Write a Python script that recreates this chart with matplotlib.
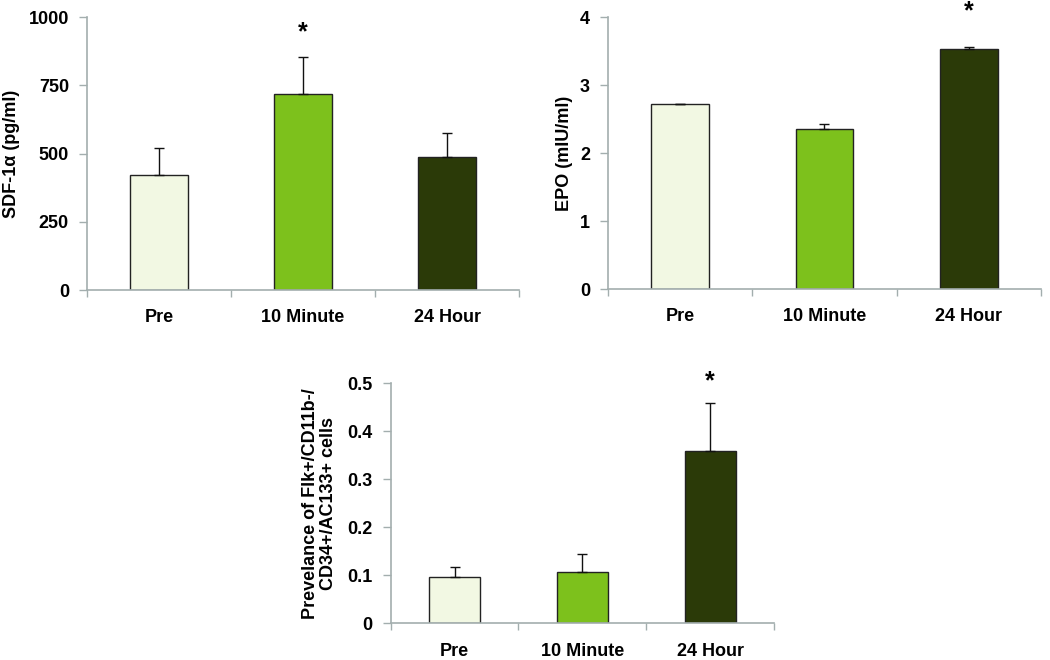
import numpy as np
import matplotlib
matplotlib.use('Agg')
import matplotlib.pyplot as plt

plt.rcParams['font.family'] = ['Liberation Sans', 'DejaVu Sans']
plt.rcParams['font.weight'] = 'bold'

groups = ['Pre', '10 Minute', '24 Hour']
bar_colors = ['#F2F8E3', '#7DC11C', '#2B3A08']

sdf_mean = [420, 717, 488]
sdf_err = [99, 135, 86]
epo_mean = [2.72, 2.36, 3.53]
epo_err = [0.005, 0.06, 0.03]
epc_mean = [0.097, 0.106, 0.359]
epc_err = [0.020, 0.038, 0.101]

axis_gray = '#A3AEAE'


def bar_panel(ax, means, errs, ylim, yticks, ylabel, star_idx, star_y, label_x):
    x = np.arange(len(groups))
    ax.bar(x, means, width=0.4, color=bar_colors, edgecolor='#222222', linewidth=1.0, zorder=2)
    ax.errorbar(x, means, yerr=[np.zeros(len(errs)), errs], fmt='none', ecolor='#111111',
                elinewidth=1.0, capsize=3.5, capthick=1.0, zorder=3)
    ax.set_xlim(-0.5, 2.5)
    ax.set_ylim(*ylim)
    ax.set_yticks(yticks)
    ax.set_xticks(x)
    ax.set_xticklabels(groups, fontsize=13, fontweight='bold')
    ax.set_xticks([-0.5, 0.5, 1.5, 2.5], minor=True)
    ax.tick_params(axis='x', which='major', length=0, pad=14)
    ax.tick_params(axis='x', which='minor', length=5, color=axis_gray, width=1)
    ax.tick_params(axis='y', length=6, color=axis_gray, width=1, pad=7, labelsize=13)
    for t in ax.get_yticklabels():
        t.set_fontweight('bold')
    for s in ['top', 'right']:
        ax.spines[s].set_visible(False)
    for s in ['left', 'bottom']:
        ax.spines[s].set_color(axis_gray)
        ax.spines[s].set_linewidth(1.2)
    ax.set_ylabel(ylabel, fontsize=13, fontweight='bold', linespacing=1.05)
    ax.yaxis.set_label_coords(label_x, 0.5)
    ax.text(star_idx, star_y, '*', ha='center', va='center', fontsize=18,
            fontweight='bold', clip_on=False)


fig = plt.figure(figsize=(10.5, 6.6), dpi=100)
ax1 = fig.add_axes([0.0829, 0.5606, 0.4114, 0.4136])
ax2 = fig.add_axes([0.5790, 0.5621, 0.4124, 0.4121])
ax3 = fig.add_axes([0.3721, 0.0556, 0.3650, 0.3636])

bar_panel(ax1, sdf_mean, sdf_err, (0, 1000), [0, 250, 500, 750, 1000],
          'SDF-1α (pg/ml)', 1, 945, -0.155)
bar_panel(ax2, epo_mean, epo_err, (0, 4), [0, 1, 2, 3, 4],
          'EPO (mIU/ml)', 2, 4.08, -0.081)
bar_panel(ax3, epc_mean, epc_err, (0, 0.5), [0, 0.1, 0.2, 0.3, 0.4, 0.5],
          'Prevelance of Flk+/CD11b-/\nCD34+/AC133+ cells', 2, 0.505, -0.141)
ax3.set_yticklabels(['0', '0.1', '0.2', '0.3', '0.4', '0.5'], fontweight='bold')

fig.savefig('out.png', dpi=100)
